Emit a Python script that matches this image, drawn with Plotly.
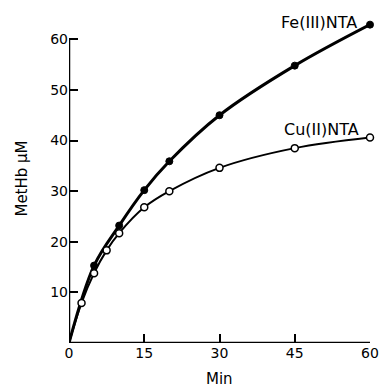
import plotly.graph_objects as go

# Data
fe_t = [0, 5, 10, 15, 20, 30, 45, 60]
fe_y = [0, 15.3, 23.2, 30.2, 35.9, 45.0, 54.8, 62.9]
cu_t = [0, 2.5, 5, 7.5, 10, 15, 20, 30, 45, 60]
cu_y = [0, 7.9, 13.8, 18.3, 21.7, 26.8, 30.0, 34.6, 38.5, 40.6]
x_ticks = [0, 15, 30, 45, 60]
y_ticks = [10, 20, 30, 40, 50, 60]
fe_name = "Fe(III)NTA"
cu_name = "Cu(II)NTA"
x_title = "Min"
y_title = "MetHb μM"

FONT = "DejaVu Sans"

fig = go.Figure()
# smooth curves
fig.add_trace(go.Scatter(x=cu_t, y=cu_y, mode="lines", line=dict(color="black", width=2, shape="spline"),
                         cliponaxis=False, hoverinfo="skip"))
fig.add_trace(go.Scatter(x=fe_t, y=fe_y, mode="lines", line=dict(color="black", width=3, shape="spline"),
                         cliponaxis=False, hoverinfo="skip"))
# markers (skip origin)
fig.add_trace(go.Scatter(x=fe_t[1:], y=fe_y[1:], mode="markers", name=fe_name,
                         marker=dict(color="black", size=7, line=dict(color="black", width=1)),
                         cliponaxis=False))
fig.add_trace(go.Scatter(x=cu_t[1:], y=cu_y[1:], mode="markers", name=cu_name,
                         marker=dict(color="white", size=7, line=dict(color="black", width=1.5)),
                         cliponaxis=False))

# axis lines from 0 to 60
fig.add_shape(type="line", xref="x", yref="y", x0=0, y0=0, x1=60, y1=0, line=dict(color="black", width=2.5))
fig.add_shape(type="line", xref="x", yref="y", x0=0, y0=0, x1=0, y1=60, line=dict(color="black", width=2.5))

fig.add_annotation(x=57.8, y=63.4, xref="x", yref="y", text=fe_name, showarrow=False,
                   xanchor="right", yanchor="middle", font=dict(family=FONT, size=16, color="black"))
fig.add_annotation(x=58.2, y=42.2, xref="x", yref="y", text=cu_name, showarrow=False,
                   xanchor="right", yanchor="middle", font=dict(family=FONT, size=16, color="black"))
# x axis title
fig.add_annotation(x=30, y=-0.108, xref="x", yref="paper", text=x_title, showarrow=False,
                   xanchor="center", yanchor="middle", font=dict(family=FONT, size=15, color="black"))

fig.update_layout(
    width=379, height=388,
    margin=dict(l=69, r=9, t=14, b=45),
    paper_bgcolor="white", plot_bgcolor="white",
    showlegend=False,
    font=dict(family=FONT, size=14, color="black"),
    xaxis=dict(range=[0, 60], tickvals=x_ticks, ticktext=[str(v) for v in x_ticks],
               ticks="inside", ticklen=9, tickwidth=1.5, tickcolor="black",
               showgrid=False, zeroline=False, showline=False, automargin=False),
    yaxis=dict(range=[0, 65], tickvals=y_ticks, ticktext=[str(v) for v in y_ticks],
               ticks="inside", ticklen=9, tickwidth=1.5, tickcolor="black",
               showgrid=False, zeroline=False, showline=False, automargin=False,
               title=dict(text=y_title, font=dict(family=FONT, size=15), standoff=18)),
)

fig.write_html("out.html",
               config={"displayModeBar": False},
               post_script="document.body.style.margin='0';document.body.style.overflow='hidden';")
